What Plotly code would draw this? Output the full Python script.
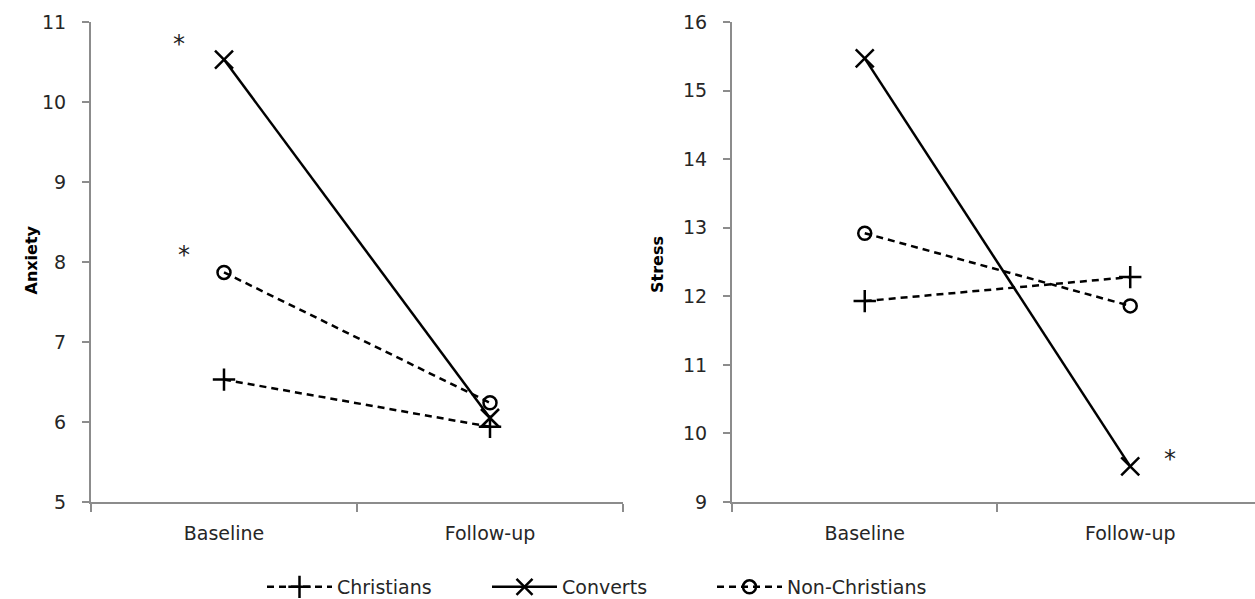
import plotly.graph_objects as go

categories = ["Baseline", "Follow-up"]
series_names = ["Christians", "Converts", "Non-Christians"]

anxiety_christians = [6.53, 5.94]
anxiety_converts = [10.53, 6.05]
anxiety_nonchristians = [7.87, 6.24]

stress_christians = [11.93, 12.28]
stress_converts = [15.47, 9.52]
stress_nonchristians = [12.92, 11.86]

anxiety_ticks = [5, 6, 7, 8, 9, 10, 11]
stress_ticks = [9, 10, 11, 12, 13, 14, 15, 16]

W, H = 1255, 599
FONT = "DejaVu Sans"
AXC = "#8c8c8c"
TXT = "#262626"

styles = {
    "Christians": dict(dash="7px,5px", symbol="cross-thin-open", size=16),
    "Converts": dict(dash="solid", symbol="x-thin-open", size=18),
    "Non-Christians": dict(dash="7px,5px", symbol="circle-open", size=13),
}

fig = go.Figure()
left = [anxiety_christians, anxiety_converts, anxiety_nonchristians]
right = [stress_christians, stress_converts, stress_nonchristians]
for name, ly, ry in zip(series_names, left, right):
    st = styles[name]
    for ys, xa, ya, show in [(ly, "x", "y", True), (ry, "x2", "y2", False)]:
        fig.add_trace(go.Scatter(
            x=categories, y=ys, xaxis=xa, yaxis=ya, name=name,
            legendgroup=name, showlegend=show, mode="lines+markers",
            line=dict(color="black", width=2.5, dash=st["dash"]),
            marker=dict(symbol=st["symbol"], size=st["size"], color="black",
                        line=dict(color="black", width=2.5)),
        ))

ydom = [(H - 502) / H, (H - 22) / H]
common_x = dict(type="category", showline=True, linecolor=AXC, linewidth=2,
                ticks="outside", tickson="boundaries", ticklen=8, tickcolor=AXC,
                tickwidth=2, showgrid=False, zeroline=False, automargin=False,
                ticklabelstandoff=13,
                tickfont=dict(family=FONT, size=19, color=TXT), fixedrange=True)
common_y = dict(showline=True, linecolor=AXC, linewidth=2, ticks="outside",
                ticklen=7, tickcolor=AXC, tickwidth=2, showgrid=False,
                zeroline=False, automargin=False, ticklabelstandoff=12,
                tickfont=dict(family=FONT, size=19, color=TXT),
                domain=ydom)

fig.update_layout(
    width=W, height=H, margin=dict(l=0, r=0, t=0, b=0, autoexpand=False),
    paper_bgcolor="white", plot_bgcolor="white",
    xaxis=dict(**common_x, domain=[91 / W, 623 / W], range=[-0.5, 1.5]),
    xaxis2=dict(**common_x, domain=[732 / W, 1.0], range=[-0.5, 1.47], anchor="y2"),
    yaxis=dict(**common_y, range=[5, 11], tickvals=anxiety_ticks, anchor="x"),
    yaxis2=dict(**common_y, range=[9, 16], tickvals=stress_ticks, anchor="x2"),
    legend=dict(orientation="h", x=262 / W, xanchor="left", y=(H - 587) / H,
                yanchor="middle", font=dict(family=FONT, size=19, color=TXT),
                itemwidth=65, entrywidth=145, entrywidthmode="pixels",
                bgcolor="rgba(0,0,0,0)"),
    showlegend=True,
)

ann_font = dict(family=FONT, size=16, color="black")
fig.add_annotation(text="<b>Anxiety</b>", textangle=-90, x=19 / W, y=(H - 260) / H,
                   xref="paper", yref="paper", showarrow=False, font=ann_font)
fig.add_annotation(text="<b>Stress</b>", textangle=-90, x=657 / W, y=(H - 265) / H,
                   xref="paper", yref="paper", showarrow=False, font=ann_font)

star_font = dict(family=FONT, size=24, color="#222")
fig.add_annotation(text="*", x=-0.17, y=10.73, xref="x", yref="y", showarrow=False, font=star_font)
fig.add_annotation(text="*", x=-0.15, y=8.09, xref="x", yref="y", showarrow=False, font=star_font)
fig.add_annotation(text="*", x=1.15, y=9.63, xref="x2", yref="y2", showarrow=False, font=star_font)

fig.write_html("out.html")
